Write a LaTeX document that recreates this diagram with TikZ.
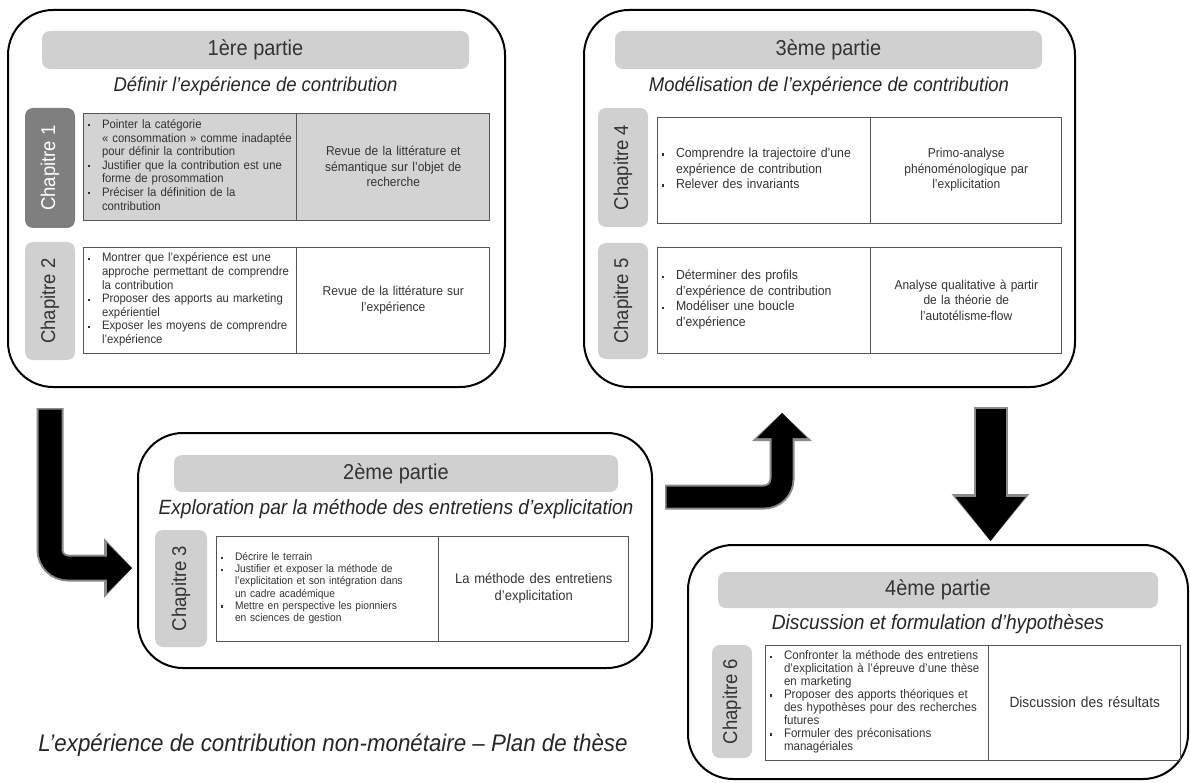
\documentclass[tikz,border=0pt]{standalone}
\usepackage{fontspec}
\setmainfont{Liberation Sans}[FakeStretch=0.93]
\usetikzlibrary{positioning,arrows.meta,calc}

\definecolor{bargray}{HTML}{D0D0D0}
\definecolor{tabdark}{HTML}{7F7F7F}
\definecolor{cellgray}{HTML}{D3D3D3}
\definecolor{txtgray}{HTML}{333333}
\definecolor{rulegray}{HTML}{555555}
\definecolor{arrowrim}{HTML}{8A8A8A}

\newcommand{\puce}{\rule[0.3ex]{2.2pt}{2.2pt}}
\newcommand{\puces}[1]{\begin{tabular}{@{}p{14pt}@{}l@{}}#1\end{tabular}}

\begin{document}
\begin{tikzpicture}[x=1pt,y=-1pt,
    partbox/.style={draw=black, line width=2pt, rounded corners=45pt},
    headbar/.style={fill=bargray, rounded corners=8pt, text=txtgray,
      font=\fontsize{21.5}{24}\selectfont},
    parttitle/.style={font=\fontsize{19.9}{23}\selectfont\itshape, text=black!85},
    chaptab/.style={rotate=90, rounded corners=8pt, inner sep=0pt,
      font=\fontsize{19.9}{22}\selectfont},
    tablight/.style={chaptab, fill=bargray, text=txtgray},
    tabdark/.style={chaptab, fill=tabdark, text=white},
    cell/.style={draw=rulegray, line width=0.8pt, inner xsep=5pt, text=txtgray},
    listcell/.style={cell, font=\fontsize{12.2}{13.6}\selectfont},
    notecell/.style={cell, align=center, font=\fontsize{12.9}{15.5}\selectfont},
    rimline/.style={draw=arrowrim, line width=#1pt},
    coreline/.style={draw=black, line width=#1pt}
  ]
  \useasboundingbox (0,0) rectangle (1190,783);

  % 1ere partie
  \node[partbox, minimum width=497pt, minimum height=377pt] (part1) at (256.5,198.5) {};
  \node[headbar, minimum width=427pt, minimum height=38pt] (head1) at (255.5,50) {1ère partie};
  \node[parttitle] (title1) at (255.5,86) {Définir l’expérience de contribution};
  \node[tabdark, minimum width=120pt, minimum height=50pt] (ch1) at (50,168) {Chapitre 1};
  \node[listcell, fill=cellgray, minimum width=213pt, minimum height=107pt, text width=203pt]
    (c1l) at (189.5,166.5) {\puces{\puce & Pointer la catégorie\\
      & « consommation » comme inadaptée\\ & pour définir la contribution\\
      \puce & Justifier que la contribution est une\\ & forme de prosommation\\
      \puce & Préciser la définition de la\\ & contribution}};
  \node[notecell, fill=cellgray, minimum width=193pt, minimum height=107pt, text width=183pt,
    right=0pt of c1l] (c1r) {Revue de la littérature et\\ sémantique sur l’objet de\\ recherche};
  \node[tablight, minimum width=118pt, minimum height=50pt] (ch2) at (50,301) {Chapitre 2};
  \node[listcell, fill=white, minimum width=213pt, minimum height=106pt, text width=203pt]
    (c2l) at (189.5,300) {\puces{\puce & Montrer que l’expérience est une\\
      & approche permettant de comprendre\\ & la contribution\\
      \puce & Proposer des apports au marketing\\ & expérientiel\\
      \puce & Exposer les moyens de comprendre\\ & l’expérience}};
  \node[notecell, minimum width=193pt, minimum height=106pt, text width=183pt,
    right=0pt of c2l] (c2r) {Revue de la littérature sur\\ l’expérience};

  % 3eme partie
  \node[partbox, minimum width=491pt, minimum height=377pt] (part3) at (829.5,198.5) {};
  \node[headbar, minimum width=427pt, minimum height=38pt] (head3) at (828.5,50) {3ème partie};
  \node[parttitle] (title3) at (829,86) {Modélisation de l’expérience de contribution};
  \node[tablight, minimum width=119pt, minimum height=50pt] (ch4) at (623,167.5) {Chapitre 4};
  \node[listcell, font=\fontsize{13.2}{15.5}\selectfont, minimum width=213pt, minimum height=106pt,
    text width=203pt] (c4l) at (763.5,170) {\puces{\puce & Comprendre la trajectoire d’une\\
      & expérience de contribution\\ \puce & Relever des invariants}};
  \node[notecell, minimum width=191pt, minimum height=106pt, text width=181pt,
    right=0pt of c4l] (c4r) {Primo-analyse\\ phénoménologique par\\ l’explicitation};
  \node[tablight, minimum width=116pt, minimum height=50pt] (ch5) at (623,301) {Chapitre 5};
  \node[listcell, font=\fontsize{13.2}{15.5}\selectfont, minimum width=213pt, minimum height=106pt,
    text width=203pt] (c5l) at (763.5,300) {\puces{\puce & Déterminer des profils\\
      & d’expérience de contribution\\ \puce & Modéliser une boucle\\ & d’expérience}};
  \node[notecell, minimum width=191pt, minimum height=106pt, text width=181pt,
    right=0pt of c5l] (c5r) {Analyse qualitative à partir\\ de la théorie de\\ l’autotélisme-flow};

  % 2eme partie
  \node[partbox, minimum width=514pt, minimum height=235pt] (part2) at (395,550.5) {};
  \node[headbar, minimum width=444pt, minimum height=37pt] (head2) at (396,473.5) {2ème partie};
  \node[parttitle, font=\fontsize{20.6}{23}\selectfont\itshape] (title2) at (396,509)
    {Exploration par la méthode des entretiens d’explicitation};
  \node[tablight, minimum width=117pt, minimum height=52pt] (ch3) at (181,588.5) {Chapitre 3};
  \node[listcell, font=\fontsize{11}{12.2}\selectfont, minimum width=222pt, minimum height=105pt,
    text width=212pt] (c3l) at (327,588.5) {\puces{\puce & Décrire le terrain\\
      \puce & Justifier et exposer la méthode de\\ & l’explicitation et son intégration dans\\
      & un cadre académique\\ \puce & Mettre en perspective les pionniers\\
      & en sciences de gestion}};
  \node[notecell, font=\fontsize{14}{16.5}\selectfont, minimum width=190pt, minimum height=105pt,
    text width=180pt, right=0pt of c3l] (c3r) {La méthode des entretiens\\ d’explicitation};

  % 4eme partie
  \node[partbox, minimum width=500pt, minimum height=234pt] (part4) at (938,662) {};
  \node[headbar, minimum width=440pt, minimum height=36pt] (head4) at (938,590) {4ème partie};
  \node[parttitle, font=\fontsize{20.6}{23}\selectfont\itshape] (title4) at (938,624)
    {Discussion et formulation d’hypothèses};
  \node[tablight, minimum width=113pt, minimum height=40pt] (ch6) at (732,701.5) {Chapitre 6};
  \node[listcell, font=\fontsize{12.4}{12.9}\selectfont, minimum width=223pt, minimum height=115pt,
    text width=213pt] (c6l) at (876.5,702.5) {\puces{\puce & Confronter la méthode des entretiens\\
      & d’explicitation à l’épreuve d’une thèse\\ & en marketing\\
      \puce & Proposer des apports théoriques et\\ & des hypothèses pour des recherches\\
      & futures\\ \puce & Formuler des préconisations\\ & managériales}};
  \node[notecell, font=\fontsize{14.8}{17}\selectfont, minimum width=192pt, minimum height=115pt,
    text width=182pt, right=0pt of c6l] (c6r) {Discussion des résultats};

  \node[font=\fontsize{24}{28}\selectfont\itshape, text=black!85] (caption) at (333,745)
    {L’expérience de contribution non-monétaire – Plan de thèse};

  % fleches
  \coordinate (a1s) at (50,408);
  \coordinate (a1e) at (132,568);
  \coordinate (a2s) at (665,497);
  \coordinate (a2e) at (782,413);
  \coordinate (a3s) at (990.5,407);
  \coordinate (a3e) at (990.5,541);
  \draw[rimline=27, rounded corners=18pt, -{Triangle[length=28pt,width=60pt,line width=0pt]}]
    (a1s) |- (a1e);
  \draw[coreline=23, rounded corners=18pt, -{Triangle[length=25pt,width=50pt,line width=0pt]}]
    ([yshift=-1.5pt]a1s) |- (a1e);
  \draw[rimline=25, rounded corners=18pt, -{Triangle[length=28pt,width=60pt,line width=0pt]}]
    (a2s) -| (a2e);
  \draw[coreline=21, rounded corners=18pt, -{Triangle[length=25pt,width=50pt,line width=0pt]}]
    ([xshift=1.5pt]a2s) -| (a2e);
  \draw[rimline=34, -{Triangle[length=47pt,width=78pt,line width=0pt]}] (a3s) -- (a3e);
  \draw[coreline=30, -{Triangle[length=44pt,width=70pt,line width=0pt]}]
    ([yshift=-1.5pt]a3s) -- (a3e);
\end{tikzpicture}
\end{document}
